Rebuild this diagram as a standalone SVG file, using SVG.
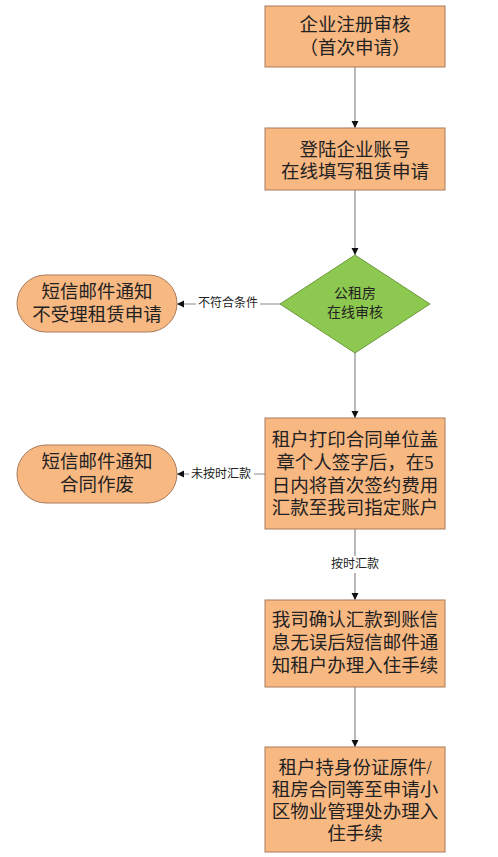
<svg xmlns="http://www.w3.org/2000/svg" width="498" height="857" viewBox="0 0 498 857">
<defs>
<style>
.box{fill:#F8B882;stroke:#A87A5A;stroke-width:1}
.pill{fill:#F8B882;stroke:#A87A5A;stroke-width:1}
.dia{fill:#8DC850;stroke:#6E9A3E;stroke-width:1}
.t{font-family:"Liberation Serif","Noto Sans CJK SC",serif;font-size:18.5px;fill:#222;text-anchor:middle;dominant-baseline:central}
.ts{font-family:"Liberation Serif","Noto Sans CJK SC",serif;font-size:14px;fill:#222;text-anchor:middle;dominant-baseline:central}
.lab{font-family:"Liberation Serif","Noto Sans CJK SC",serif;font-size:12px;fill:#222;text-anchor:middle;dominant-baseline:central}
.ln{stroke:#8A8A8A;stroke-width:1.2;fill:none;marker-end:url(#ah)}
.bg{fill:#fff}
</style>
<marker id="ah" markerWidth="8" markerHeight="8" refX="7" refY="4" orient="auto" markerUnits="userSpaceOnUse">
<path d="M0,0.5 L7,4 L0,7.5 Z" fill="#111"/>
</marker>
</defs>
<rect width="498" height="857" fill="#fff"/>
<g id="connectors">
<line class="ln" x1="355" y1="67" x2="355" y2="128"/>
<line class="ln" x1="355" y1="190" x2="355" y2="255"/>
<line class="ln" x1="355" y1="353" x2="355" y2="418"/>
<line class="ln" x1="280" y1="304" x2="177" y2="304"/>
<rect class="bg" x="196" y="296" width="64" height="16"/>
<text class="lab" x="228" y="303">不符合条件</text>
<line class="ln" x1="265" y1="474" x2="177" y2="474"/>
<rect class="bg" x="189" y="466" width="65" height="16"/>
<text class="lab" x="221" y="474">未按时汇款</text>
<line class="ln" x1="355" y1="529" x2="355" y2="600"/>
<rect class="bg" x="328" y="556" width="54" height="17"/>
<text class="lab" x="355" y="564">按时汇款</text>
<line class="ln" x1="355" y1="687" x2="355" y2="747"/>
</g>
<g id="n1">
<rect class="box" x="265" y="6" width="180" height="61"/>
<text class="t" x="355" y="25">企业注册审核</text>
<text class="t" x="355" y="48">（首次申请）</text>
</g>
<g id="n2">
<rect class="box" x="265" y="128" width="180" height="62"/>
<text class="t" x="355" y="150">登陆企业账号</text>
<text class="t" x="355" y="172">在线填写租赁申请</text>
</g>
<g id="n3">
<polygon class="dia" points="355,255 430,304 355,353 280,304"/>
<text class="ts" x="355" y="293">公租房</text>
<text class="ts" x="355" y="312">在线审核</text>
</g>
<g id="n4">
<rect class="pill" x="17" y="275" width="160" height="57" rx="28.5" ry="28.5"/>
<text class="t" x="97" y="292">短信邮件通知</text>
<text class="t" x="97" y="315">不受理租赁申请</text>
</g>
<g id="n5">
<rect class="box" x="265" y="418" width="180" height="111"/>
<text class="t" x="355" y="440">租户打印合同单位盖</text>
<text class="t" x="355" y="463">章个人签字后，在5</text>
<text class="t" x="355" y="486">日内将首次签约费用</text>
<text class="t" x="355" y="508">汇款至我司指定账户</text>
</g>
<g id="n6">
<rect class="pill" x="17" y="445" width="160" height="58" rx="29" ry="29"/>
<text class="t" x="97" y="462">短信邮件通知</text>
<text class="t" x="97" y="485">合同作废</text>
</g>
<g id="n7">
<rect class="box" x="265" y="600" width="180" height="87"/>
<text class="t" x="355" y="620">我司确认汇款到账信</text>
<text class="t" x="355" y="643">息无误后短信邮件通</text>
<text class="t" x="355" y="666">知租户办理入住手续</text>
</g>
<g id="n8">
<rect class="box" x="265" y="747" width="180" height="105"/>
<text class="t" x="355" y="768">租户持身份证原件/</text>
<text class="t" x="355" y="790">租房合同等至申请小</text>
<text class="t" x="355" y="812">区物业管理处办理入</text>
<text class="t" x="355" y="834">住手续</text>
</g>
</svg>
